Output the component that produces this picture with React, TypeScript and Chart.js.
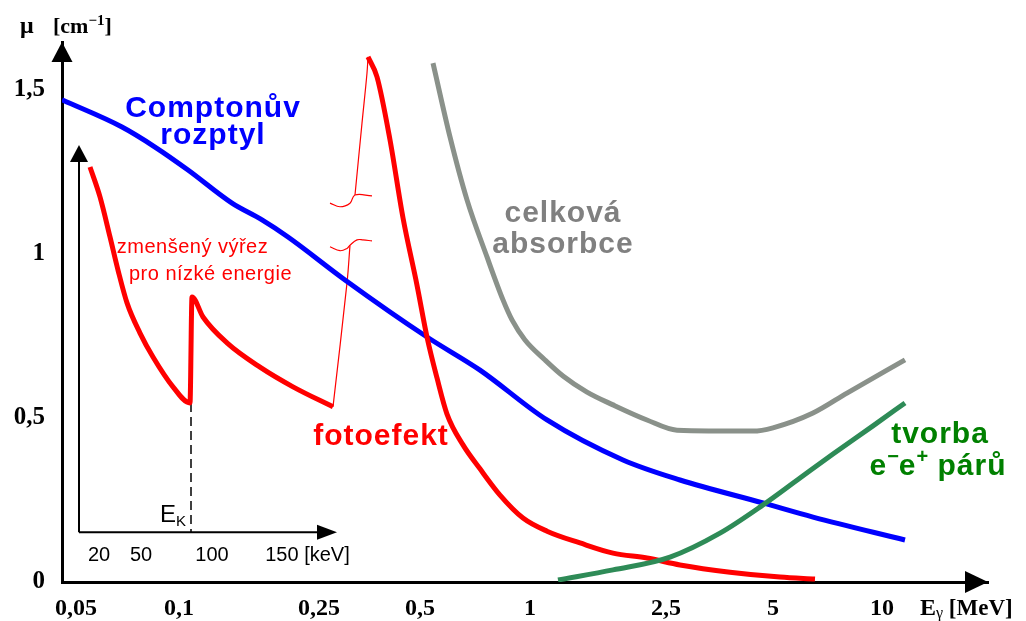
import { useEffect, useRef } from 'react';
import { Chart, registerables } from 'chart.js';

Chart.register(...registerables);

// Schematic axes: x = position along the (log-like) energy axis, y = μ [cm^-1]
const xTickPositions = [1.4, 11.7, 25.7, 35.8, 46.8, 60.4, 71.1, 82.0];
const xTickLabels = ['0,05', '0,1', '0,25', '0,5', '1', '2,5', '5', '10'];
const yTickValues = [0, 0.5, 1, 1.5];
const yTickLabels = ['0', '0,5', '1', '1,5'];

// Comptonův rozptyl
const comptonX = [0, 6.0, 9.3, 12.6, 17.0, 20.0, 22.6, 28.3, 36.5, 41.8, 48.5, 56.1, 61.8, 70.1, 75.1, 84.3];
const comptonY = [1.47, 1.387, 1.326, 1.256, 1.155, 1.104, 1.052, 0.921, 0.747, 0.646, 0.494, 0.372, 0.311, 0.241, 0.198, 0.128];

// celková absorbce
const totalX = [37.1, 38.8, 40.5, 42.5, 44.1, 45.0, 46.3, 48.3, 50.1, 52.5, 55.1, 58.5, 61.5, 69.1, 71.1, 75.1, 78.5, 84.3];
const totalY = [1.582, 1.357, 1.165, 0.991, 0.86, 0.799, 0.738, 0.677, 0.628, 0.579, 0.54, 0.494, 0.463, 0.46, 0.47, 0.515, 0.576, 0.677];

// tvorba párů
const pairX = [49.6, 55.1, 60.8, 65.8, 70.1, 73.8, 77.1, 81.1, 84.3];
const pairY = [0.006, 0.037, 0.076, 0.149, 0.235, 0.317, 0.39, 0.476, 0.546];

// fotoefekt (main part)
const photoX = [30.6, 31.5, 32.8, 34.1, 35.5, 36.5, 37.5, 38.5, 40.1, 41.8, 43.8, 46.1, 48.5, 51.8, 55.1, 58.5, 61.8, 66.8, 71.8, 75.3];
const photoY = [1.601, 1.54, 1.348, 1.11, 0.905, 0.747, 0.622, 0.512, 0.418, 0.345, 0.265, 0.195, 0.155, 0.119, 0.088, 0.073, 0.052, 0.03, 0.015, 0.009];

// fotoefekt – zmenšený výřez pro nízké energie (with K edge)
const photoLowX = [2.8, 3.8, 4.8, 5.6, 6.5, 7.8, 9.1, 11.1, 12.8, 13.0, 14.1, 16.5, 19.8, 23.1, 27.1];
const photoLowY = [1.265, 1.174, 1.052, 0.951, 0.851, 0.759, 0.686, 0.595, 0.546, 0.869, 0.808, 0.729, 0.655, 0.595, 0.534];

// thin connecting line with axis break
const linkLowX = [27.1, 28.5, 28.8];
const linkLowY = [0.534, 0.912, 1.027];
const linkHighX = [29.3, 30.0, 30.5, 30.6];
const linkHighY = [1.18, 1.399, 1.552, 1.601];
const breakLowX = [26.8, 27.8, 28.5, 28.8, 29.5, 30.1, 31.0];
const breakLowY = [1.022, 1.01, 1.017, 1.027, 1.043, 1.043, 1.04];
const breakHighX = [26.8, 27.8, 28.8, 29.3, 31.0];
const breakHighY = [1.155, 1.144, 1.155, 1.18, 1.177];

// inset (low energy) axis
const insetTickPositions = [3.7, 7.9, 15.0, 24.55];
const insetTickLabels = ['20', '50', '100', '150 [keV]'];
const insetOriginX = 1.7;
const insetOriginY = 0.152;
const insetTopY = 1.332;
const insetEndX = 27.5;
const edgeKX = 12.9;
const edgeKY = 0.546;

const zip = (xs: number[], ys: number[]) => xs.map((x, i) => ({ x, y: ys[i] }));

const line = (label: string, xs: number[], ys: number[], color: string, width: number, mono = true) => ({
  label,
  data: zip(xs, ys),
  borderColor: color,
  backgroundColor: color,
  borderWidth: width,
  pointRadius: 0,
  fill: false,
  cubicInterpolationMode: mono ? 'monotone' : 'default',
  tension: mono ? 0 : 0.4,
  borderJoinStyle: 'round',
});

const SANS = '"Liberation Sans", Arial, sans-serif';
const SERIF = '"Liberation Serif", "Times New Roman", serif';

function tri(ctx: CanvasRenderingContext2D, pts: number[][]) {
  ctx.beginPath();
  ctx.moveTo(pts[0][0], pts[0][1]);
  for (let i = 1; i < pts.length; i++) ctx.lineTo(pts[i][0], pts[i][1]);
  ctx.closePath();
  ctx.fill();
}

function text(ctx: CanvasRenderingContext2D, s: string, x: number, y: number, font: string, color: string, align: CanvasTextAlign = 'center', spacing = '0px', baseline: CanvasTextBaseline = 'alphabetic') {
  ctx.font = font;
  ctx.fillStyle = color;
  ctx.textAlign = align;
  ctx.textBaseline = baseline;
  (ctx as any).letterSpacing = spacing;
  ctx.fillText(s, x, y);
  (ctx as any).letterSpacing = '0px';
}

type Run = { t: string; font: string; dy: number; spacing?: string };
function runs(ctx: CanvasRenderingContext2D, items: Run[], x: number, y: number, color: string, align: 'left' | 'center') {
  ctx.fillStyle = color;
  ctx.textAlign = 'left';
  ctx.textBaseline = 'alphabetic';
  const widths = items.map((r) => {
    ctx.font = r.font;
    (ctx as any).letterSpacing = r.spacing || '0px';
    return ctx.measureText(r.t).width;
  });
  const total = widths.reduce((a, b) => a + b, 0);
  let cx = align === 'center' ? x - total / 2 : x;
  items.forEach((r, i) => {
    ctx.font = r.font;
    (ctx as any).letterSpacing = r.spacing || '0px';
    ctx.fillText(r.t, cx, y + r.dy);
    cx += widths[i];
  });
  (ctx as any).letterSpacing = '0px';
}

const decor = {
  id: 'decor',
  beforeDatasetsDraw(chart: any) {
    const { ctx, scales } = chart;
    const X = (v: number) => scales.x.getPixelForValue(v);
    const Y = (v: number) => scales.y.getPixelForValue(v);
    ctx.save();
    ctx.strokeStyle = '#000';
    ctx.fillStyle = '#000';
    ctx.lineWidth = 2;
    const ox = X(insetOriginX), oy = Y(insetOriginY);
    const ty = Y(insetTopY), ex = X(insetEndX);
    ctx.beginPath();
    ctx.moveTo(ox, oy);
    ctx.lineTo(ox, ty + 10);
    ctx.moveTo(ox, oy);
    ctx.lineTo(ex - 10, oy);
    ctx.stroke();
    tri(ctx, [[ox, ty], [ox - 9, ty + 17], [ox + 9, ty + 17]]);
    tri(ctx, [[ex, oy], [ex - 20, oy - 7.5], [ex - 20, oy + 7.5]]);
    // K edge dashed line
    ctx.lineWidth = 1.5;
    ctx.setLineDash([9, 5]);
    ctx.beginPath();
    ctx.moveTo(X(edgeKX), Y(edgeKY));
    ctx.lineTo(X(edgeKX), oy);
    ctx.stroke();
    ctx.setLineDash([]);
    ctx.restore();
  },
  afterDraw(chart: any) {
    const { ctx, chartArea: a, scales } = chart;
    const X = (v: number) => scales.x.getPixelForValue(v);
    const Y = (v: number) => scales.y.getPixelForValue(v);
    ctx.save();
    ctx.fillStyle = '#000';
    // main axis arrows
    tri(ctx, [[a.left, a.top], [a.left - 10.5, a.top + 20], [a.left + 10.5, a.top + 20]]);
    tri(ctx, [[a.right, a.bottom], [a.right - 23, a.bottom - 11], [a.right - 23, a.bottom + 11]]);

    // axis titles
    runs(ctx, [
      { t: 'μ', font: `bold 24px ${SERIF}`, dy: 0 },
    ], a.left - 42, a.top - 9, '#000', 'left');
    runs(ctx, [
      { t: '[cm', font: `bold 22px ${SERIF}`, dy: 0 },
      { t: '−1', font: `bold 15px ${SERIF}`, dy: -8 },
      { t: ']', font: `bold 22px ${SERIF}`, dy: 0 },
    ], a.left - 9, a.top - 9, '#000', 'left');
    runs(ctx, [
      { t: 'E', font: `bold 24px ${SERIF}`, dy: 0 },
      { t: 'γ', font: `16px ${SERIF}`, dy: 3 },
      { t: ' [MeV]', font: `bold 23px ${SERIF}`, dy: 0 },
    ], a.right - 68, a.bottom + 33, '#000', 'left');

    // inset tick labels
    insetTickLabels.forEach((lab, i) => {
      text(ctx, lab, X(insetTickPositions[i]), Y(0.082), `20px ${SANS}`, '#000', 'center', '0px', 'middle');
    });
    runs(ctx, [
      { t: 'E', font: `24px ${SANS}`, dy: 0 },
      { t: 'K', font: `15px ${SANS}`, dy: 4 },
    ], X(9.8), Y(0.183), '#000', 'left');

    // series labels
    const big = `bold 30px ${SANS}`;
    text(ctx, 'Comptonův', X(15.1), Y(1.418), big, '#0000ff', 'center', '1px');
    text(ctx, 'rozptyl', X(15.1), Y(1.335), big, '#0000ff', 'center', '1px');
    text(ctx, 'celková', X(50.1), Y(1.098), big, '#808080', 'center', '1px');
    text(ctx, 'absorbce', X(50.1), Y(1.003), big, '#808080', 'center', '1px');
    text(ctx, 'fotoefekt', X(31.9), Y(0.418), big, '#ff0000', 'center', '1px');
    text(ctx, 'tvorba', X(87.8), Y(0.424), big, '#008000', 'center', '1px');
    runs(ctx, [
      { t: 'e', font: big, dy: 0, spacing: '1px' },
      { t: '−', font: `bold 20px ${SANS}`, dy: -12 },
      { t: 'e', font: big, dy: 0, spacing: '1px' },
      { t: '+', font: `bold 20px ${SANS}`, dy: -12 },
      { t: ' párů', font: big, dy: 0, spacing: '1px' },
    ], X(87.6), Y(0.326), '#008000', 'center');
    text(ctx, 'zmenšený výřez', X(13.05), Y(1.003), `20px ${SANS}`, '#ff0000', 'center', '0.5px');
    text(ctx, 'pro nízké energie', X(14.85), Y(0.921), `20px ${SANS}`, '#ff0000', 'center', '0.5px');
    ctx.restore();
  },
};

export default function App() {
  const ref = useRef<HTMLCanvasElement>(null);
  useEffect(() => {
    const canvas = ref.current;
    if (!canvas) return;
    const chart = new Chart(canvas, {
      type: 'line',
      data: {
        datasets: [
          line('tvorba e−e+ párů', pairX, pairY, '#2e8b57', 5),
          line('fotoefekt', photoX, photoY, '#ff0000', 5),
          line('Comptonův rozptyl', comptonX, comptonY, '#0000ff', 5),
          line('celková absorbce', totalX, totalY, '#8a918a', 5),
          line('fotoefekt (nízké energie)', photoLowX, photoLowY, '#ff0000', 5),
          line('spoj 1', linkLowX, linkLowY, '#ff0000', 1.2, false),
          line('spoj 2', linkHighX, linkHighY, '#ff0000', 1.2, false),
          line('zlom 1', breakLowX, breakLowY, '#ff0000', 1.2, false),
          line('zlom 2', breakHighX, breakHighY, '#ff0000', 1.2, false),
        ] as any,
      },
      options: {
        animation: false,
        responsive: false,
        events: [],
        layout: { padding: { left: 0, top: 42, right: 38, bottom: 0 } },
        plugins: { legend: { display: false }, tooltip: { enabled: false }, title: { display: false } },
        scales: {
          x: {
            type: 'linear',
            min: 0,
            max: 92.6,
            grid: { display: false, drawTicks: false },
            border: { display: true, color: '#000', width: 3 },
            afterFit: (s: any) => { s.height = 39; },
            afterBuildTicks: (s: any) => { s.ticks = xTickPositions.map((v) => ({ value: v })); },
            ticks: {
              autoSkip: false,
              maxRotation: 0,
              minRotation: 0,
              padding: 12,
              color: '#000',
              font: { family: SERIF, size: 24, weight: 'bold' },
              callback: (_v: any, i: number) => xTickLabels[i],
            },
          },
          y: {
            type: 'linear',
            min: 0,
            max: 540 / 328,
            grid: { display: false, drawTicks: false },
            border: { display: true, color: '#000', width: 3 },
            afterFit: (s: any) => { s.width = 62; },
            afterBuildTicks: (s: any) => { s.ticks = yTickValues.map((v) => ({ value: v })); },
            ticks: {
              autoSkip: false,
              padding: 17,
              color: '#000',
              font: { family: SERIF, size: 25, weight: 'bold' },
              callback: (_v: any, i: number) => yTickLabels[i],
            },
          },
        },
      } as any,
      plugins: [decor],
    });
    return () => chart.destroy();
  }, []);
  return (
    <div style={{ position: 'absolute', left: 0, top: 0, width: 1026, height: 621, background: '#fff' }}>
      <canvas ref={ref} width={1026} height={621} style={{ display: 'block' }} />
    </div>
  );
}
